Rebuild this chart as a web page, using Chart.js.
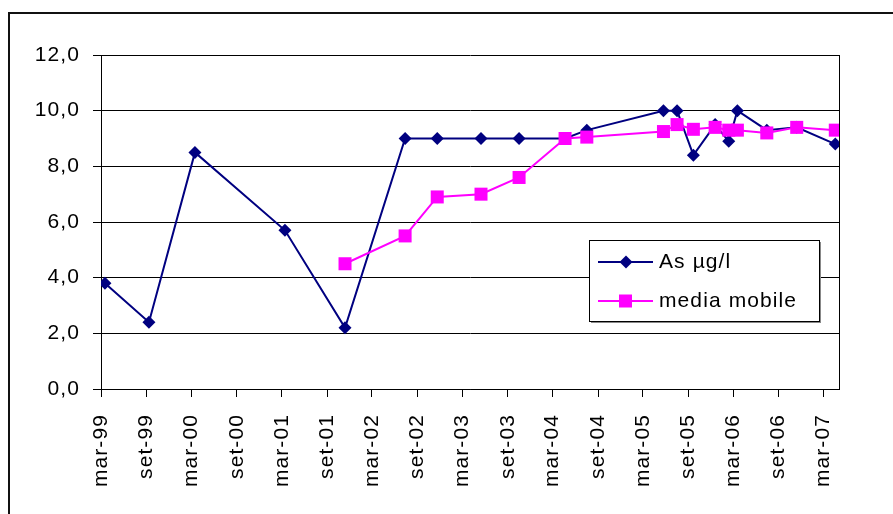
<!DOCTYPE html>
<html>
<head>
<meta charset="utf-8">
<script src="https://cdn.jsdelivr.net/npm/chart.js@4/dist/chart.umd.min.js"></script>
<style>
  html, body { margin: 0; padding: 0; background: #fff; }
  body { width: 893px; height: 514px; position: relative; overflow: hidden; }
  #frame { position: absolute; left: 8px; top: 12px; width: 920px; height: 540px; border: 2px solid #111; }
  #wrap { position: absolute; left: 0; top: 0; width: 893px; height: 514px; }
  #chart { display: block; }
</style>
</head>
<body>
<div id="frame"></div>
<div id="wrap"><canvas id="chart" width="893" height="514"></canvas></div>
<script>
// sampling dates and values
const sampleDates = ['1999-03-17', '1999-09-11', '2000-03-15', '2001-03-14', '2001-11-12',
    '2002-07-13', '2002-11-20', '2003-05-16', '2003-10-17', '2004-04-20', '2004-07-17',
    '2005-05-23', '2005-07-17', '2005-09-21', '2005-12-18', '2006-02-11', '2006-03-18',
    '2006-07-15', '2006-11-13', '2007-04-18'];
const asValues = [3.8, 2.4, 8.5, 5.7, 2.2, 9.0, 9.0, 9.0, 9.0, 9.0, 9.3,
    10.0, 10.0, 8.4, 9.5, 8.9, 10.0, 9.3, 9.4, 8.8];
const mediaValues = [null, null, null, null, 4.5, 5.5, 6.9, 7.0, 7.6, 9.0, 9.05,
    9.25, 9.5, 9.33, 9.4, 9.3, 9.3, 9.2, 9.4, 9.3];

const tickDates = ['1999-03-01', '1999-09-01', '2000-03-01', '2000-09-01', '2001-03-01',
    '2001-09-01', '2002-03-01', '2002-09-01', '2003-03-01', '2003-09-01', '2004-03-01',
    '2004-09-01', '2005-03-01', '2005-09-01', '2006-03-01', '2006-09-01', '2007-03-01'];
const tickLabels = ['mar-99', 'set-99', 'mar-00', 'set-00', 'mar-01', 'set-01', 'mar-02',
    'set-02', 'mar-03', 'set-03', 'mar-04', 'set-04', 'mar-05', 'set-05', 'mar-06',
    'set-06', 'mar-07'];
const axisEndDate = '2007-05-03';

const seriesNames = ['As µg/l', 'media mobile'];
const blue = '#000080';
const pink = '#FF00FF';

function toDays(s) {
    const start = Date.UTC(1999, 2, 1);
    const p = s.split('-');
    return Math.round((Date.UTC(+p[0], +p[1] - 1, +p[2]) - start) / 86400000);
}

const sampleDays = sampleDates.map(toDays);
const tickDays = tickDates.map(toDays);

const spacing = '1.1px';
const fontSize = 21;
const fontFamily = "'Liberation Sans', Arial, sans-serif";

const spacingPlugin = {
    id: 'spacing',
    beforeLayout(chart) { chart.ctx.letterSpacing = spacing; },
    beforeDraw(chart) { chart.ctx.letterSpacing = spacing; }
};

const framePlugin = {
    id: 'frame',
    beforeDatasetsDraw(chart) {
        const a = chart.chartArea;
        const ctx = chart.ctx;
        ctx.save();
        ctx.strokeStyle = '#000';
        ctx.lineWidth = 1;
        ctx.beginPath();
        ctx.moveTo(Math.round(a.right) + 0.5, Math.round(a.top));
        ctx.lineTo(Math.round(a.right) + 0.5, Math.round(a.bottom));
        ctx.stroke();
        ctx.restore();
    }
};

function diamond(ctx, x, y, r) {
    ctx.beginPath();
    ctx.moveTo(x, y - r);
    ctx.lineTo(x + r, y);
    ctx.lineTo(x, y + r);
    ctx.lineTo(x - r, y);
    ctx.closePath();
    ctx.fill();
}

const legendPlugin = {
    id: 'boxLegend',
    afterDraw(chart) {
        const ctx = chart.ctx;
        const bx = 589, by = 240, bw = 230, bh = 81;
        ctx.save();
        ctx.fillStyle = '#888';
        ctx.fillRect(bx + 2, by + 2, bw, bh);
        ctx.fillStyle = '#fff';
        ctx.fillRect(bx, by, bw, bh);
        ctx.strokeStyle = '#000';
        ctx.lineWidth = 1;
        ctx.strokeRect(bx + 0.5, by + 0.5, bw, bh);

        const rows = [262, 301];
        const colors = [blue, pink];
        rows.forEach((y, i) => {
            ctx.strokeStyle = colors[i];
            ctx.lineWidth = 2;
            ctx.beginPath();
            ctx.moveTo(598, y);
            ctx.lineTo(653, y);
            ctx.stroke();
            ctx.fillStyle = colors[i];
            if (i === 0) {
                diamond(ctx, 626, y, 6.5);
            } else {
                ctx.fillRect(619, y - 6.5, 13, 13);
            }
            ctx.fillStyle = '#000';
            ctx.font = fontSize + 'px ' + fontFamily;
            ctx.letterSpacing = spacing;
            ctx.textBaseline = 'middle';
            ctx.textAlign = 'left';
            ctx.fillText(seriesNames[i], 659, y);
        });
        ctx.restore();
    }
};

new Chart(document.getElementById('chart').getContext('2d'), {
    type: 'line',
    data: {
        datasets: [
            {
                label: seriesNames[0],
                data: sampleDays.map((d, i) => ({ x: d, y: asValues[i] })),
                borderColor: blue,
                backgroundColor: blue,
                borderWidth: 2,
                pointStyle: 'rectRot',
                pointRadius: 6.5,
                pointBorderWidth: 0,
                pointBackgroundColor: blue,
                tension: 0,
                order: 1
            },
            {
                label: seriesNames[1],
                data: sampleDays.map((d, i) => ({ x: d, y: mediaValues[i] })),
                borderColor: pink,
                backgroundColor: pink,
                borderWidth: 2,
                pointStyle: 'rect',
                pointRadius: 9.2,
                pointBorderWidth: 0,
                pointBackgroundColor: pink,
                tension: 0,
                order: 0
            }
        ]
    },
    options: {
        responsive: false,
        animation: false,
        devicePixelRatio: 1,
        layout: { padding: { top: 55, right: 54, left: 0, bottom: 0 } },
        plugins: {
            legend: { display: false },
            tooltip: { enabled: false }
        },
        scales: {
            x: {
                type: 'linear',
                min: 0,
                max: toDays(axisEndDate),
                afterFit(scale) { scale.height = 125; },
                afterBuildTicks(scale) {
                    scale.ticks = tickDays.map(v => ({ value: v }));
                },
                grid: {
                    drawOnChartArea: false,
                    drawTicks: true,
                    tickLength: 8,
                    color: '#000',
                    lineWidth: 1
                },
                border: { display: true, color: '#000', width: 1 },
                ticks: {
                    autoSkip: false,
                    minRotation: 90,
                    maxRotation: 90,
                    padding: 17,
                    color: '#000',
                    font: { family: fontFamily, size: fontSize },
                    callback: (value, index) => tickLabels[index]
                }
            },
            y: {
                min: 0,
                max: 12,
                afterFit(scale) { scale.width = 101; },
                grid: {
                    color: '#000',
                    lineWidth: 1,
                    tickLength: 8
                },
                border: { display: true, color: '#000', width: 1 },
                ticks: {
                    stepSize: 2,
                    padding: 13,
                    color: '#000',
                    font: { family: fontFamily, size: fontSize },
                    callback: v => v.toFixed(1).replace('.', ',')
                }
            }
        }
    },
    plugins: [spacingPlugin, framePlugin, legendPlugin]
});
</script>
</body>
</html>
